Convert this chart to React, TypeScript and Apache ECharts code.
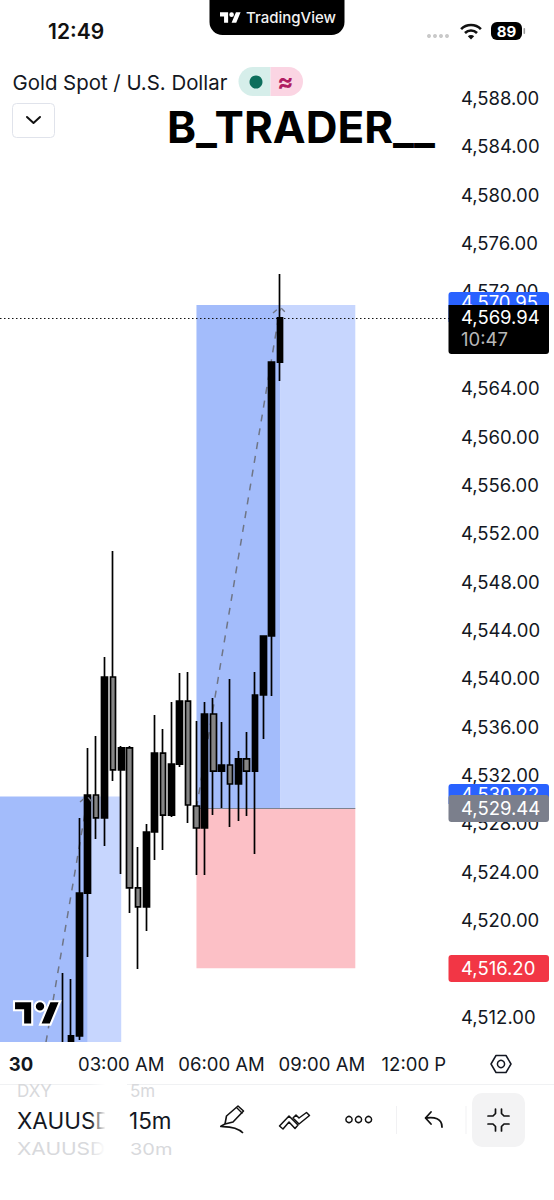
import React, { useEffect, useRef } from "react";
import * as echarts from "echarts";

const FONT = "Inter";

// price axis
const priceMin = 4508;
const priceMax = 4588;
const priceStep = 4;

// 15-minute slots
const slotLabels: Record<number, string> = { 2: "30", 14: "03:00 AM", 26: "06:00 AM", 38: "09:00 AM", 50: "12:00 PM" };
const slotCount = 54;
const categories = Array.from({ length: slotCount }, (_, i) => slotLabels[i] ?? `slot-${i}`);

// visible candles start at this slot
const firstCandle = 7;
const opens = [4507.0, 4508.5, 4510.42, 4522.24, 4530.35, 4528.45, 4540.11, 4532.42, 4534.24, 4522.66, 4521.09, 4527.29, 4533.82, 4528.69, 4532.91, 4538.12, 4529.44, 4527.62, 4537.05, 4532.33, 4532.83, 4531.26, 4533.33, 4532.33, 4538.62, 4543.5, 4566.16];
const closes = [4509.0, 4510.42, 4522.24, 4530.35, 4528.45, 4540.11, 4532.42, 4534.24, 4522.66, 4521.09, 4527.29, 4533.82, 4528.69, 4532.91, 4538.12, 4529.52, 4527.62, 4537.05, 4532.33, 4532.83, 4531.26, 4533.33, 4532.33, 4538.62, 4543.5, 4566.16, 4569.82];
const lows = [4505.0, 4508.0, 4510.08, 4516.95, 4526.71, 4526.13, 4531.51, 4523.81, 4520.59, 4515.96, 4519.1, 4524.97, 4525.8, 4528.53, 4532.67, 4528.03, 4523.73, 4523.73, 4528.69, 4529.27, 4527.7, 4528.2, 4528.61, 4525.47, 4534.98, 4538.54, 4564.59];
const highs = [4515.63, 4515.13, 4528.45, 4534.24, 4535.23, 4541.76, 4550.53, 4534.4, 4534.4, 4526.05, 4527.95, 4536.97, 4535.81, 4538.04, 4540.44, 4540.52, 4536.47, 4538.04, 4538.37, 4536.39, 4539.94, 4533.99, 4535.56, 4540.52, 4543.5, 4566.16, 4573.44];

// position tools: slots and prices
const leftTool = { mid: 10, end: 14, target: 4530.22, floor: 4508 };
const rightTool = { start: 23, mid: 33, end: 42, target: 4570.88, entry: 4529.27, stop: 4516.02 };

// trend lines: slot / price
const leftTrend = [[5, 4509.9], [10, 4530.22]];
const rightTrend = [[23, 4529.27], [33, 4570.6]];

const lastPriceLine = 4569.82;
const lastPriceText = "4,569.94";

const BLUE_DARK = "#a3bcfb";
const BLUE_LIGHT = "#c7d6fe";
const PINK = "#fcc0c6";
const INK = "#131722";

const LOGO = "M14 22H7V11H0V4h14v18zM28 22h-8l7.5-18h8L28 22zM24 8a4 4 0 1 1-8 0a4 4 0 1 1 8 0z";

const fmt = (v: number) => v.toLocaleString("en-US", { minimumFractionDigits: 2, maximumFractionDigits: 2 });

const txt = (x: number, y: number, text: string, fontSize: number, fill: string, z = 20, fontWeight: number | string = 400, align = "left", extra: any = {}) => ({
  type: "text", x, y, z, silent: true, ...extra,
  style: { text, fontSize, fill, fontWeight, fontFamily: FONT, align, verticalAlign: "middle" },
});
const box = (x: number, y: number, width: number, height: number, fill: string, z = 15, r: any = 0, stroke?: string) => ({
  type: "rect", z, silent: true, shape: { x, y, width, height, r }, style: { fill, stroke },
});
const poly = (points: number[][], stroke = INK, lineWidth = 1.6, z = 20, extra: any = {}) => ({
  type: "polyline", z, silent: true, shape: { points }, style: { stroke, lineWidth, fill: "none", lineJoin: "round", lineCap: "round", ...extra },
});
const fade = (x: number, y: number, w: number, h: number) => ({
  type: "rect", z: 21, silent: true, shape: { x, y, width: w, height: h },
  style: { fill: new echarts.graphic.LinearGradient(0, 0, 1, 0, [{ offset: 0, color: "rgba(255,255,255,0)" }, { offset: 0.42, color: "#fff" }, { offset: 1, color: "#fff" }]) },
});

function chrome(): any[] {
  const a = (deg: number) => (deg * Math.PI) / 180;
  const trendDash = { stroke: "#6f7585", lineWidth: 1.4, lineDash: [5, 6], fill: "none" };
  return [
    // time-axis backdrop
    box(0, 1042, 554, 158, "#ffffff", 5),
    box(447, 1045, 40, 36, "#ffffff", 12),
    box(0, 1084, 554, 1, "#f0f1f3", 12),

    // status bar
    txt(48, 31, "12:49", 21, "#111", 20, 600),
    box(209.5, -14, 135, 49, "#000000", 20, 13),
    { type: "tvlogo", x: 220, y: 10, scaleX: 0.58, scaleY: 0.58, z: 21, silent: true, style: { fill: "#fff" } },
    txt(246, 17, "TradingView", 15, "#f2f2f2", 21, 500),
    ...[429, 435, 441, 447].map((cx) => ({ type: "circle", z: 20, silent: true, shape: { cx, cy: 36, r: 2 }, style: { fill: "#c9c9c9" } })),
    { type: "arc", z: 20, silent: true, shape: { cx: 471, cy: 39, r: 14, startAngle: a(-135), endAngle: a(-45) }, style: { stroke: "#111", lineWidth: 2.6, fill: "none" } },
    { type: "arc", z: 20, silent: true, shape: { cx: 471, cy: 39, r: 8.5, startAngle: a(-135), endAngle: a(-45) }, style: { stroke: "#111", lineWidth: 2.6, fill: "none" } },
    { type: "sector", z: 20, silent: true, shape: { cx: 471, cy: 39.5, r0: 0, r: 4.5, startAngle: a(-135), endAngle: a(-45) }, style: { fill: "#111" } },
    box(491, 22, 31, 18, "#000000", 20, 6),
    box(523.5, 28, 1.6, 6, "#9a9a9a", 20, 1),
    txt(506.5, 31.5, "89", 15, "#fff", 21, 700, "center"),

    // symbol row
    txt(12.5, 82, "Gold Spot / U.S. Dollar", 20.4, INK, 20, 400),
    box(238.5, 67, 32, 29, "#d6eeea", 20, [14.5, 0, 0, 14.5]),
    box(270.5, 67, 32.5, 29, "#fbd5e3", 20, [0, 14.5, 14.5, 0]),
    { type: "circle", z: 21, silent: true, shape: { cx: 256, cy: 82, r: 6.5 }, style: { fill: "#0d6e5c" } },
    txt(285.5, 81, "≈", 24, "#b01c62", 21, 700, "center"),
    box(12.5, 103.5, 42, 34, "#ffffff", 20, 4, "#e0e3eb"),
    poly([[27, 117], [33.5, 123], [40, 117]], "#111", 2),

    // watermark
    txt(167, 127, "B_TRADER__", 44, "#000", 20, 700),

    // price badges
    box(448.5, 292, 100.5, 30, "#2962ff", 16, [3, 3, 0, 0]),
    txt(461, 302, "4,570.95", 18.5, "#fff", 17),
    box(448.5, 305, 100.5, 49, "#000000", 18, [0, 0, 3, 3]),
    txt(461, 317, lastPriceText, 18.5, "#fff", 19),
    txt(461, 339, "10:47", 18.5, "#b8b8b8", 19),
    box(448.5, 784, 100.5, 20, "#2962ff", 16, [3, 3, 0, 0]),
    txt(461, 794, "4,530.22", 18.5, "#fff", 17),
    box(448.5, 795, 100.5, 27, "#7b7f8c", 18, 3),
    txt(461, 807.5, "4,529.44", 18.5, "#fff", 19),
    box(448.5, 955, 100.5, 27, "#f23645", 18, 3),
    txt(461, 968, "4,516.20", 18.5, "#fff", 19),

    // arrow tips of the position tools
    { type: "polyline", z: 4, silent: true, shape: { points: [[273, 313], [280, 307], [286, 313]] }, style: trendDash },
    { type: "polyline", z: 4, silent: true, shape: { points: [[80, 802], [87, 796], [92, 802]] }, style: trendDash },

    // chart logo
    { type: "tvlogo", x: 14, y: 996, scaleX: 1.3, scaleY: 1.3, z: 6, silent: true, style: { fill: "#000", stroke: "#fff", lineWidth: 1.6 } },

    // gear hexagon
    { type: "polygon", z: 20, silent: true, shape: { points: [[491, 1064], [496, 1055.5], [506, 1055.5], [511, 1064], [506, 1072.5], [496, 1072.5]] }, style: { stroke: INK, lineWidth: 1.5, fill: "none", lineJoin: "round" } },
    { type: "circle", z: 20, silent: true, shape: { cx: 501, cy: 1064, r: 3.6 }, style: { stroke: INK, lineWidth: 1.5, fill: "none" } },

    // toolbar pickers
    txt(17, 1091, "DXY", 17, "#d8d9dc"),
    txt(130, 1091, "5m", 17, "#d8d9dc"),
    txt(17, 1120, "XAUUSD", 22.5, "#131722"),
    txt(129, 1120, "15m", 22.5, "#131722"),
    txt(17, 1149, "XAUUSD", 21, "#d8d9dc", 20, 400, "left", { scaleY: 0.8 }),
    txt(130, 1149, "30m", 20, "#d8d9dc", 20, 400, "left", { scaleY: 0.8 }),
    fade(90, 1082, 37, 80),

    // pen
    { type: "polygon", z: 20, silent: true, shape: { points: [[225, 1124], [226.5, 1116], [238, 1106], [243.5, 1111], [233, 1122]] }, style: { stroke: "#111", lineWidth: 1.6, fill: "none", lineJoin: "round" } },
    { type: "bezierCurve", z: 20, silent: true, shape: { x1: 225, y1: 1124, x2: 243, y2: 1133, cpx1: 212, cpy1: 1130, cpx2: 232, cpy2: 1122 }, style: { stroke: "#111", lineWidth: 1.6, fill: "none" } },
    poly([[237, 1108], [242, 1113]], "#111", 1.4),

    // drawings
    { type: "polygon", z: 20, silent: true, shape: { points: [[279.5, 1126], [289, 1116], [298, 1125], [295, 1128.5], [289, 1122], [283, 1129]] }, style: { stroke: "#111", lineWidth: 1.5, fill: "none", lineJoin: "round" } },
    { type: "polygon", z: 20, silent: true, shape: { points: [[293, 1118], [299, 1124], [309.5, 1115.5], [306.5, 1112.5], [299, 1118], [296, 1115]] }, style: { stroke: "#111", lineWidth: 1.5, fill: "none", lineJoin: "round" } },

    // more
    ...[349, 358.5, 368.5].map((cx) => ({ type: "circle", z: 20, silent: true, shape: { cx, cy: 1119.5, r: 3.1 }, style: { stroke: "#111", lineWidth: 1.5, fill: "none" } })),
    box(396, 1106, 1, 28, "#f1f1f3", 20),
    // undo
    poly([[431, 1112], [425.5, 1118], [431, 1124]], "#111", 1.8),
    { type: "bezierCurve", z: 20, silent: true, shape: { x1: 426, y1: 1118, x2: 442, y2: 1127, cpx1: 434, cpy1: 1117, cpx2: 442, cpy2: 1118 }, style: { stroke: "#111", lineWidth: 1.8, fill: "none", lineCap: "round" } },
    box(465.5, 1106, 1, 28, "#f1f1f3", 20),
    // compress button
    box(472, 1093, 53, 54, "#f3f3f4", 20, 10),
    poly([[488, 1116], [493, 1116], [495.5, 1113.5], [495.5, 1109]], "#111", 1.7, 21),
    poly([[509, 1116], [504, 1116], [501.5, 1113.5], [501.5, 1109]], "#111", 1.7, 21),
    poly([[488, 1124], [493, 1124], [495.5, 1126.5], [495.5, 1131]], "#111", 1.7, 21),
    poly([[509, 1124], [504, 1124], [501.5, 1126.5], [501.5, 1131]], "#111", 1.7, 21),
  ];
}

export default function App() {
  const ref = useRef<HTMLDivElement>(null);
  useEffect(() => {
    if (!ref.current) return;
    echarts.graphic.registerShape("tvlogo", echarts.graphic.extendPath(LOGO as any, {}) as any);
    document.body.style.margin = "0";
    document.body.style.background = "#fff";
    const chart = echarts.init(ref.current, null, { renderer: "svg" });

    const lead = Array.from({ length: firstCandle }, () => ["-", "-", "-", "-"]);
    const candles = [...lead, ...opens.map((o, i) => [o, closes[i], lows[i], highs[i]])];
    const { mid, end, target, floor } = leftTool;
    const R = rightTool;

    chart.setOption({
      animation: false,
      backgroundColor: "#fff",
      textStyle: { fontFamily: FONT },
      grid: { left: 0, width: 451.44, top: 98, height: 967.2, containLabel: false },
      xAxis: {
        type: "category",
        data: categories,
        boundaryGap: true,
        z: 10,
        axisLine: { show: false },
        axisTick: { show: false },
        splitLine: { show: false },
        axisLabel: {
          interval: (i: number) => slotLabels[i] !== undefined,
          hideOverlap: false,
          margin: -1,
          verticalAlign: "middle",
          fontFamily: FONT,
          fontSize: 18.5,
          color: INK,
          formatter: (v: string) => (v === slotLabels[2] ? `{b|${v}}` : v),
          rich: { b: { fontFamily: FONT, fontSize: 18.5, fontWeight: 700, color: INK } },
        },
      },
      yAxis: {
        type: "value",
        position: "right",
        min: priceMin,
        max: priceMax,
        interval: priceStep,
        axisLine: { show: false },
        axisTick: { show: false },
        splitLine: { show: false },
        axisLabel: {
          margin: 9.5,
          fontFamily: FONT,
          fontSize: 18.5,
          color: INK,
          formatter: (v: number) => (v === priceMin ? "" : fmt(v)),
        },
      },
      series: [
        {
          type: "candlestick",
          z: 3,
          barWidth: 6.2,
          silent: true,
          data: candles,
          itemStyle: { color: "#000000", color0: "#858585", borderColor: "#000000", borderColor0: "#000000", borderWidth: 1.7 },
          markArea: {
            silent: true,
            z: 1,
            data: [
              [{ yAxis: target, itemStyle: { color: BLUE_DARK, opacity: 1 } }, { xAxis: mid, yAxis: floor }],
              [{ xAxis: mid, yAxis: target, itemStyle: { color: BLUE_LIGHT, opacity: 1 } }, { xAxis: end, yAxis: floor }],
              [{ xAxis: R.start, yAxis: R.target, itemStyle: { color: BLUE_DARK, opacity: 1 } }, { xAxis: R.mid, yAxis: R.entry }],
              [{ xAxis: R.mid, yAxis: R.target, itemStyle: { color: BLUE_LIGHT, opacity: 1 } }, { xAxis: R.end, yAxis: R.entry }],
              [{ xAxis: R.start, yAxis: R.entry, itemStyle: { color: PINK, opacity: 1 } }, { xAxis: R.end, yAxis: R.stop }],
            ],
          },
          markLine: {
            silent: true,
            symbol: "none",
            z: 2,
            label: { show: false },
            data: [
              { yAxis: lastPriceLine, lineStyle: { color: "#111", type: [1.5, 2.5], width: 1.1 } },
              [
                { xAxis: R.start, yAxis: R.entry, lineStyle: { color: "#7d8290", type: "solid", width: 1.2 } },
                { xAxis: R.end, yAxis: R.entry },
              ],
            ],
          },
        },
        {
          type: "line",
          z: 2,
          silent: true,
          showSymbol: false,
          data: leftTrend,
          lineStyle: { color: "#6f7585", width: 1.5, type: [7, 7] },
        },
        {
          type: "line",
          z: 2,
          silent: true,
          showSymbol: false,
          data: rightTrend,
          lineStyle: { color: "#6f7585", width: 1.5, type: [7, 7] },
        },
      ],
      graphic: { elements: chrome() },
    });
    return () => chart.dispose();
  }, []);
  return <div ref={ref} style={{ position: "absolute", left: 0, top: 0, width: 554, height: 1200 }} />;
}
